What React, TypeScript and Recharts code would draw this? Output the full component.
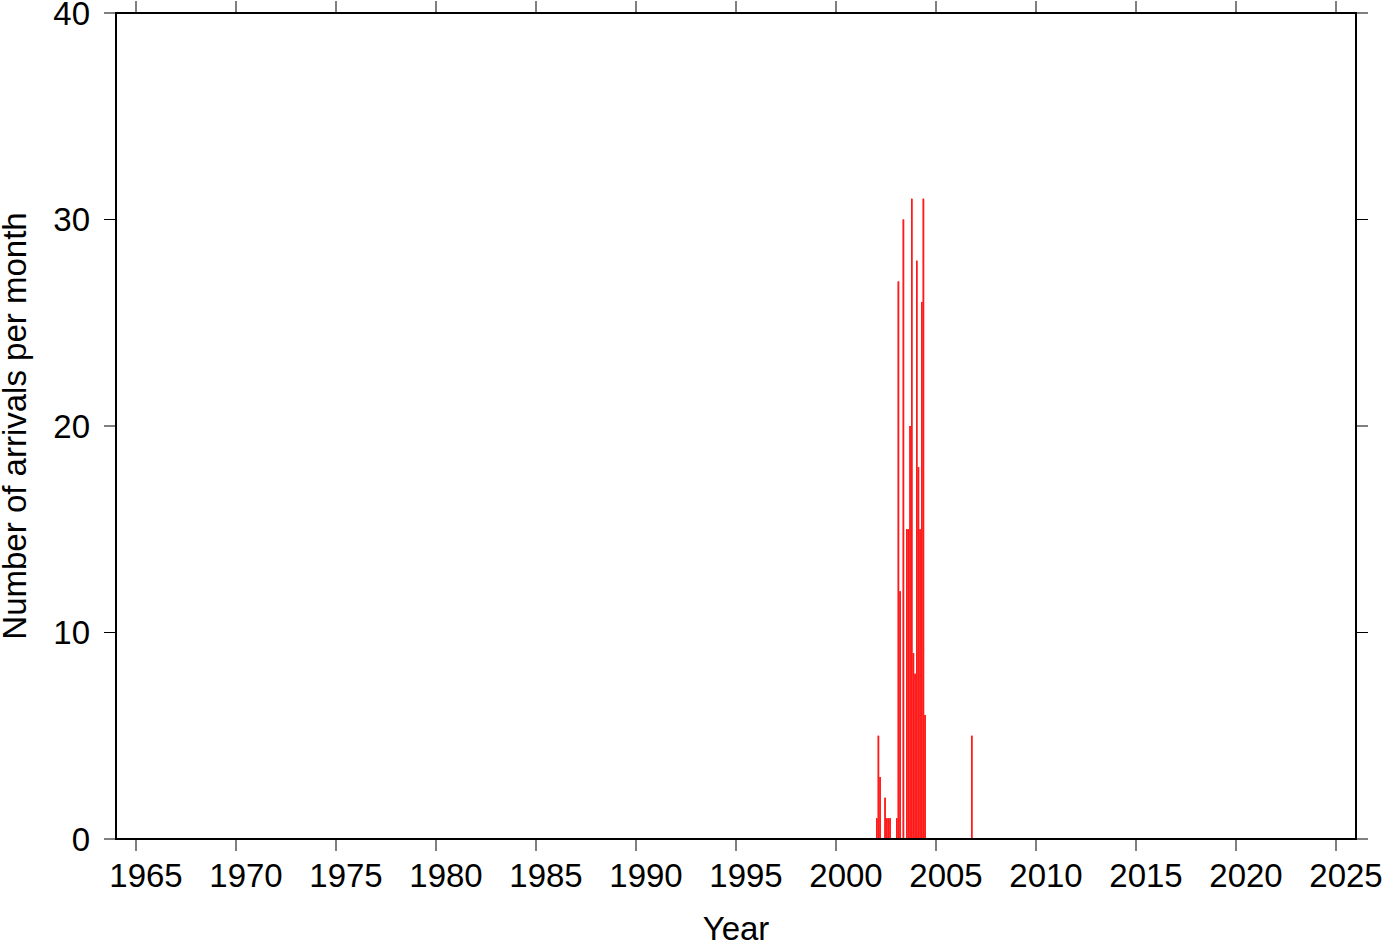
import React from 'react';
import { BarChart, Bar, XAxis, YAxis } from 'recharts';

// months with arrivals (all other months are zero)
const arrivalMonths = [
  '2002-01', '2002-02', '2002-03', '2002-06', '2002-07', '2002-08', '2002-09',
  '2003-01', '2003-02', '2003-03', '2003-05', '2003-07', '2003-08', '2003-09',
  '2003-10', '2003-11', '2003-12',
  '2004-01', '2004-02', '2004-03', '2004-04', '2004-05', '2004-06',
  '2006-10',
];
const arrivalCounts = [
  1, 5, 3, 2, 1, 1, 1,
  1, 27, 12, 30, 15, 15, 20,
  31, 9, 8,
  28, 18, 15, 26, 31, 6,
  5,
];

const firstYear = 1964;
const lastYear = 2025;
const yearTicks = [1965, 1970, 1975, 1980, 1985, 1990, 1995, 2000, 2005, 2010, 2015, 2020, 2025];
const countTicks = [0, 10, 20, 30, 40];

const W = 1382;
const H = 942;
const FONT = '"Liberation Sans", Arial, Helvetica, sans-serif';
const FS = 33;

const countByMonth: Record<string, number> = {};
arrivalMonths.forEach((m, i) => { countByMonth[m] = arrivalCounts[i]; });

// one row per month, x = middle of the month in decimal years
const data: { x: number; count: number }[] = [];
for (let y = firstYear; y <= lastYear; y++) {
  for (let m = 1; m <= 12; m++) {
    const key = `${y}-${String(m).padStart(2, '0')}`;
    data.push({ x: y + (m - 0.5) / 12, count: countByMonth[key] ?? 0 });
  }
}

const frame = { stroke: '#000', strokeWidth: 2, strokeLinecap: 'square' as const };
const tickStroke = { stroke: '#000', strokeWidth: 1 };
const tickFont = { fontSize: FS, fill: '#000', fontFamily: FONT };
const noLabel = () => <g />;

const App: React.FC = () => {
  const plotW = W - 116 - 26;
  return (
    <div style={{ position: 'absolute', left: 0, top: 0, width: W, height: H, background: '#fff' }}>
      <BarChart
        width={W}
        height={H}
        data={data}
        margin={{ top: 0, right: 0, bottom: 0, left: 0 }}
        barCategoryGap={0}
        barGap={0}
      >
        <XAxis
          xAxisId="year"
          dataKey="x"
          type="number"
          domain={[firstYear, lastYear + 1]}
          ticks={yearTicks}
          allowDataOverflow
          height={103}
          axisLine={frame}
          tickLine={tickStroke}
          tickSize={12}
          tickMargin={13}
          tick={{ ...tickFont, dx: 10 }}
          interval={0}
          label={({ viewBox }: any) => (
            <text
              x={viewBox.x + viewBox.width / 2}
              y={940}
              textAnchor="middle"
              fontSize={FS}
              fontFamily={FONT}
              fill="#000"
            >
              Year
            </text>
          )}
        />
        <XAxis
          xAxisId="top"
          dataKey="x"
          orientation="top"
          type="number"
          domain={[firstYear, lastYear + 1]}
          ticks={yearTicks}
          allowDataOverflow
          height={13}
          axisLine={frame}
          tickLine={tickStroke}
          tickSize={12}
          tick={noLabel}
          interval={0}
        />
        <YAxis
          yAxisId="left"
          type="number"
          domain={[0, 40]}
          ticks={countTicks}
          allowDataOverflow
          width={116}
          axisLine={frame}
          tickLine={tickStroke}
          tickSize={12}
          tickMargin={14}
          tick={tickFont}
          interval={0}
          label={({ viewBox }: any) => (
            <text
              x={0}
              y={0}
              transform={`translate(26, ${viewBox.y + viewBox.height / 2}) rotate(-90)`}
              textAnchor="middle"
              fontSize={FS}
              fontFamily={FONT}
              fill="#000"
            >
              Number of arrivals per month
            </text>
          )}
        />
        <YAxis
          yAxisId="right"
          orientation="right"
          type="number"
          domain={[0, 40]}
          ticks={countTicks}
          allowDataOverflow
          width={26}
          axisLine={frame}
          tickLine={tickStroke}
          tickSize={12}
          tick={noLabel}
          interval={0}
        />
        <Bar
          xAxisId="year"
          yAxisId="left"
          dataKey="count"
          fill="#ff1a1a"
          barSize={plotW / data.length}
          isAnimationActive={false}
        />
        <Bar
          xAxisId="top"
          yAxisId="right"
          dataKey="count"
          fill="#ff1a1a"
          barSize={plotW / data.length}
          isAnimationActive={false}
        />
      </BarChart>
    </div>
  );
};

export default App;
